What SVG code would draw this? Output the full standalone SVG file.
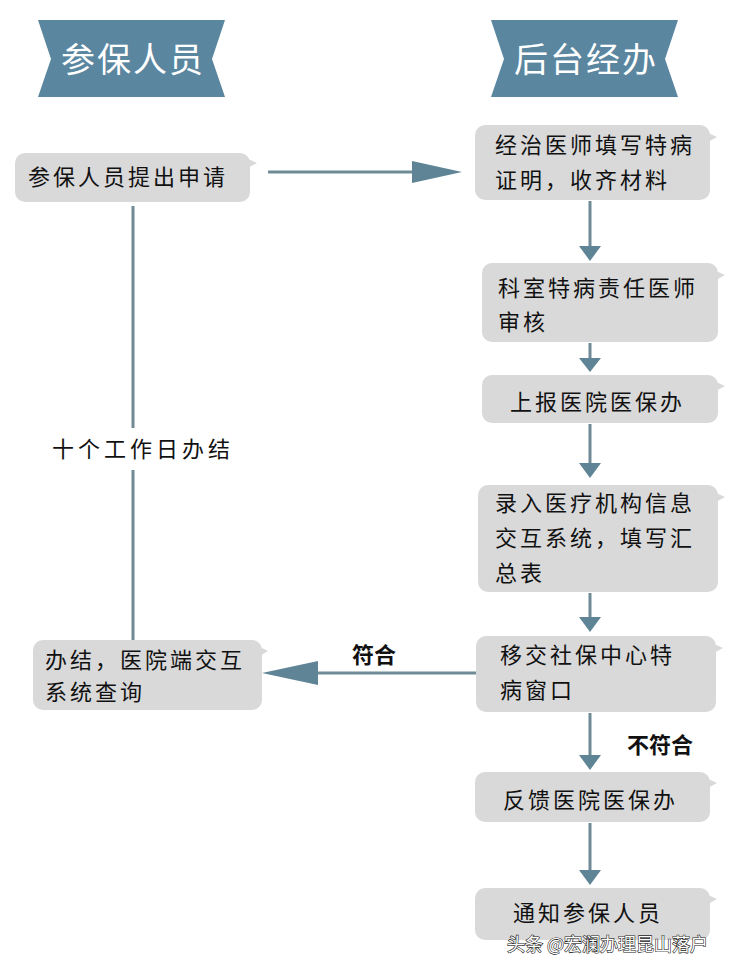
<svg xmlns="http://www.w3.org/2000/svg" width="732" height="967" viewBox="0 0 732 967">
<style>
.banner{fill:#5a86a0}
.htxt{font-family:"Noto Sans CJK SC",sans-serif;font-size:34px;fill:#ffffff;letter-spacing:2px}
.box{fill:#d9d9d9}
.tail{fill:#d9d9d9}
.t{font-family:"Noto Sans CJK SC",sans-serif;font-size:22px;fill:#111111;letter-spacing:3px}
.lbl{font-family:"Noto Sans CJK SC",sans-serif;font-size:22px;fill:#111111;letter-spacing:4px}
.bold{font-family:"Noto Sans CJK SC",sans-serif;font-size:22px;font-weight:bold;fill:#111111}
.ln{stroke:#6f8b96;stroke-width:3;fill:none}
.ah{fill:#5f8496}
.wm{font-family:"Noto Sans CJK SC",sans-serif;font-size:18px;fill:#ffffff;stroke:#222222;stroke-width:1.2px;paint-order:stroke}
</style>
<rect width="732" height="967" fill="#ffffff"/>
<g id="header-left">
<polygon class="banner" points="38,20 225,20 212,59 225,97 38,97 51,59"/>
<text class="htxt" x="61" y="72">参保人员</text>
</g>
<g id="header-right">
<polygon class="banner" points="491,20 678,20 665,59 678,97 491,97 504,59"/>
<text class="htxt" x="514" y="72">后台经办</text>
</g>
<g id="connectors">
<line class="ln" x1="268" y1="172" x2="414" y2="172"/>
<polygon class="ah" points="412,161 462,172 412,183"/>
<line class="ln" x1="133" y1="206" x2="133" y2="428"/>
<line class="ln" x1="133" y1="470" x2="133" y2="640"/>
<line class="ln" x1="590" y1="201" x2="590" y2="247"/>
<polygon class="ah" points="579,246 601,246 590,261"/>
<line class="ln" x1="590" y1="343" x2="590" y2="359"/>
<polygon class="ah" points="579,358 601,358 590,372"/>
<line class="ln" x1="590" y1="424" x2="590" y2="464"/>
<polygon class="ah" points="579,463 601,463 590,478"/>
<line class="ln" x1="590" y1="593" x2="590" y2="618"/>
<polygon class="ah" points="579,617 601,617 590,632"/>
<line class="ln" x1="476" y1="673" x2="316" y2="673"/>
<polygon class="ah" points="318,661 262,673 318,685"/>
<line class="ln" x1="590" y1="713" x2="590" y2="756"/>
<polygon class="ah" points="579,755 601,755 590,770"/>
<line class="ln" x1="590" y1="823" x2="590" y2="871"/>
<polygon class="ah" points="579,870 601,870 590,885"/>
<text class="lbl" x="52" y="457">十个工作日办结</text>
<text class="bold" x="352" y="663">符合</text>
<text class="bold" x="627" y="753">不符合</text>
</g>
<g id="n-apply">
<rect class="box" x="15" y="153" width="235" height="49" rx="10"/>
<polygon class="tail" points="246,158 257,163 246,169"/>
<text class="t" x="28" y="185">参保人员提出申请</text>
</g>
<g id="n-doctor">
<rect class="box" x="475" y="125" width="235" height="75" rx="10"/>
<polygon class="tail" points="706,132 717,137 706,143"/>
<text class="t" x="495" y="153">经治医师填写特病</text>
<text class="t" x="495" y="188">证明，收齐材料</text>
</g>
<g id="n-review">
<rect class="box" x="482" y="263" width="236" height="79" rx="10"/>
<polygon class="tail" points="714,270 725,275 714,281"/>
<text class="t" x="498" y="296">科室特病责任医师</text>
<text class="t" x="498" y="330">审核</text>
</g>
<g id="n-report">
<rect class="box" x="482" y="375" width="236" height="48" rx="10"/>
<polygon class="tail" points="714,381 725,386 714,392"/>
<text class="t" x="510" y="410">上报医院医保办</text>
</g>
<g id="n-entry">
<rect class="box" x="478" y="485" width="240" height="107" rx="10"/>
<polygon class="tail" points="714,492 725,497 714,503"/>
<text class="t" x="495" y="511">录入医疗机构信息</text>
<text class="t" x="495" y="546">交互系统，填写汇</text>
<text class="t" x="495" y="581">总表</text>
</g>
<g id="n-transfer">
<rect class="box" x="476" y="636" width="240" height="76" rx="10"/>
<polygon class="tail" points="712,643 723,648 712,654"/>
<text class="t" x="500" y="663">移交社保中心特</text>
<text class="t" x="500" y="698">病窗口</text>
</g>
<g id="n-done">
<rect class="box" x="33" y="640" width="229" height="70" rx="10"/>
<polygon class="tail" points="258,646 268,651 258,657"/>
<text class="t" x="45" y="668">办结，医院端交互</text>
<text class="t" x="45" y="700">系统查询</text>
</g>
<g id="n-feedback">
<rect class="box" x="475" y="772" width="235" height="50" rx="10"/>
<polygon class="tail" points="706,778 717,783 706,789"/>
<text class="t" x="503" y="808">反馈医院医保办</text>
</g>
<g id="n-notify">
<rect class="box" x="475" y="888" width="235" height="52" rx="10"/>
<polygon class="tail" points="706,894 717,899 706,905"/>
<text class="t" x="513" y="921">通知参保人员</text>
</g>
<text class="wm" x="507" y="951">头条 @宏澜办理昆山落户</text>
</svg>
